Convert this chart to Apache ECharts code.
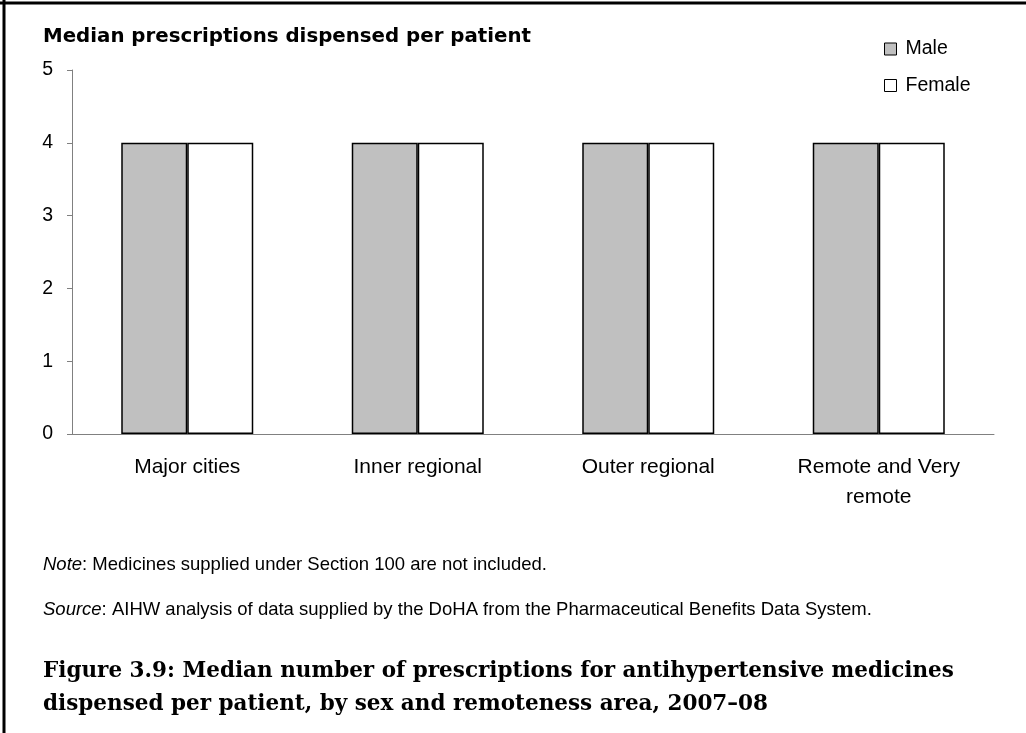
<!DOCTYPE html>
<html>
<head>
<meta charset="utf-8">
<script src="https://cdn.jsdelivr.net/npm/echarts@6/dist/echarts.min.js"></script>
<style>
  html, body { margin: 0; padding: 0; background: #fff; }
  #chart { width: 1026px; height: 733px; }
</style>
</head>
<body>
<div id="chart"></div>
<script>
  // data
  var categories = ['Major cities', 'Inner regional', 'Outer regional', 'Remote and Very\nremote'];
  var maleValues = [4, 4, 4, 4];
  var femaleValues = [4, 4, 4, 4];
  var yTitle = 'Median prescriptions dispensed per patient';
  var noteText = 'Medicines supplied under Section 100 are not included.';
  var sourceText = 'AIHW analysis of data supplied by the DoHA from the Pharmaceutical Benefits Data System.';
  var captionLines = [
    'Figure 3.9: Median number of prescriptions for antihypertensive medicines',
    'dispensed per patient, by sex and remoteness area, 2007\u201308'
  ];

  var font = 'Arial, "Liberation Sans", sans-serif';
  var myChart = echarts.init(document.getElementById('chart'));

  var option = {
    backgroundColor: '#fff',
    animation: false,
    textStyle: { fontFamily: font, color: '#000' },
    grid: { left: 72, right: 32, top: 70, bottom: 299, containLabel: false },
    legend: {
      orient: 'vertical',
      left: 884,
      top: 39,
      padding: 0,
      itemWidth: 12,
      itemHeight: 12,
      itemGap: 16.5,
      icon: 'rect',
      textStyle: { fontSize: 19.5, lineHeight: 20, color: '#000', fontFamily: font, padding: [0, 0, 0, 4] },
      itemStyle: { borderColor: '#000', borderWidth: 1 },
      data: ['Male', 'Female']
    },
    xAxis: {
      type: 'category',
      data: categories,
      axisLine: { show: true, lineStyle: { color: '#808080', width: 1 } },
      axisTick: { show: false },
      axisLabel: { fontSize: 21, color: '#000', margin: 18, lineHeight: 30, fontFamily: font, interval: 0 },
      splitLine: { show: false }
    },
    yAxis: {
      type: 'value',
      min: 0,
      max: 5,
      interval: 1,
      axisLine: { show: true, lineStyle: { color: '#808080', width: 1 } },
      axisTick: { show: true, inside: false, length: 5, lineStyle: { color: '#808080' } },
      axisLabel: { fontSize: 19.5, color: '#000', margin: 19, fontFamily: font },
      splitLine: { show: false }
    },
    series: [
      {
        name: 'Male',
        type: 'bar',
        data: maleValues,
        barWidth: 66,
        barGap: '0%',
        itemStyle: { color: '#c0c0c0', borderColor: '#000', borderWidth: 1.5 }
      },
      {
        name: 'Female',
        type: 'bar',
        data: femaleValues,
        barWidth: 66,
        barGap: '0%',
        itemStyle: { color: '#ffffff', borderColor: '#000', borderWidth: 1.5 }
      }
    ],
    graphic: [
      // page frame (top and left edges only)
      { type: 'line', shape: { x1: 0, y1: 3, x2: 1026, y2: 3 }, style: { stroke: '#000', lineWidth: 3 } },
      { type: 'line', shape: { x1: 4, y1: 0, x2: 4, y2: 733 }, style: { stroke: '#000', lineWidth: 3 } },
      {
        type: 'text', left: 43, top: 27,
        style: { text: yTitle, font: 'bold 19.8px "DejaVu Sans", sans-serif', fill: '#000' }
      },
      {
        type: 'text', left: 43, top: 555,
        style: {
          text: '{i|Note}: ' + noteText,
          font: '18.5px ' + font, fill: '#000',
          rich: { i: { fontStyle: 'italic', fontSize: 18.5, fontFamily: font } }
        }
      },
      {
        type: 'text', left: 43, top: 600,
        style: {
          text: '{i|Source}: ' + sourceText,
          font: '18.5px ' + font, fill: '#000',
          rich: { i: { fontStyle: 'italic', fontSize: 18.5, fontFamily: font } }
        }
      },
      {
        type: 'text', left: 43, top: 655,
        style: {
          text: captionLines.join('\n'),
          font: 'bold 21.5px "DejaVu Serif", serif', lineHeight: 33, fill: '#000'
        }
      }
    ]
  };

  myChart.setOption(option);
</script>
</body>
</html>
